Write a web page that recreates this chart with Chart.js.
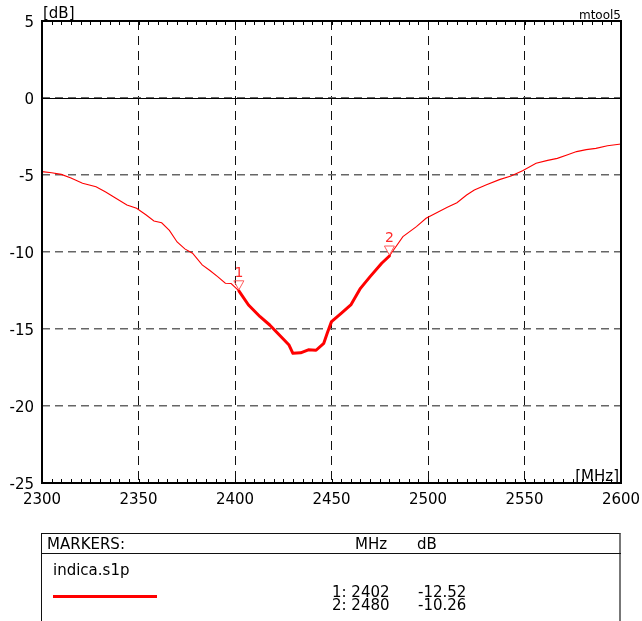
<!DOCTYPE html>
<html>
<head>
<meta charset="utf-8">
<script src="https://cdn.jsdelivr.net/npm/chart.js@4.4.1/dist/chart.umd.min.js"></script>
<style>
  html, body { margin: 0; padding: 0; background: #fff; overflow: hidden; }
  #wrap { position: relative; width: 642px; height: 621px; overflow: hidden; }
  #c { position: absolute; left: 0; top: 0; }
  .t { position: absolute; font: 15px "DejaVu Sans", sans-serif; line-height: 15px; color: #000; white-space: pre; }
  #box { position: absolute; left: 41px; top: 533px; width: 577px; height: 120px; border: 1.5px solid #111; border-right: 2px solid #777; }
  #sep { position: absolute; left: 41px; top: 553px; width: 580px; height: 0; border-top: 1.5px solid #111; }
  #leg { position: absolute; left: 53px; top: 595px; width: 104px; height: 3px; background: #ff0000; }
</style>
</head>
<body>
<div id="wrap">
  <canvas id="c" width="642" height="621"></canvas>
  <div id="box"></div>
  <div id="sep"></div>
  <div class="t" style="left:47px;top:537px;">MARKERS:</div>
  <div class="t" style="left:355px;top:537px;">MHz</div>
  <div class="t" style="left:417px;top:537px;">dB</div>
  <div class="t" style="left:53px;top:563px;">indica.s1p</div>
  <div id="leg"></div>
  <div class="t" id="m1f" style="left:332px;top:585px;"></div>
  <div class="t" id="m1d" style="left:418px;top:585px;"></div>
  <div class="t" id="m2f" style="left:332px;top:598px;"></div>
  <div class="t" id="m2d" style="left:418px;top:598px;"></div>
</div>
<script>
// ---- data ----
const freqMHz = [2300, 2305, 2310, 2315, 2321, 2328, 2333, 2337, 2344, 2349, 2354, 2358, 2362, 2366, 2370, 2374, 2378, 2383, 2387, 2391, 2395, 2398, 2402, 2407, 2413, 2418, 2423, 2428, 2430, 2434, 2438, 2442, 2446, 2448, 2450, 2455, 2460, 2465, 2470, 2476, 2480, 2487, 2494, 2499, 2505, 2510, 2515, 2520, 2524, 2530, 2537, 2543, 2549, 2556, 2562, 2567, 2572, 2577, 2582, 2587, 2593, 2600];
const dbValues = [-4.78, -4.85, -4.96, -5.2, -5.54, -5.76, -6.1, -6.41, -6.95, -7.16, -7.6, -7.99, -8.1, -8.6, -9.35, -9.8, -10.08, -10.84, -11.2, -11.6, -12.03, -12.05, -12.52, -13.44, -14.2, -14.74, -15.39, -16.04, -16.58, -16.55, -16.35, -16.38, -15.93, -15.2, -14.52, -13.98, -13.44, -12.36, -11.6, -10.73, -10.26, -9.0, -8.35, -7.81, -7.42, -7.1, -6.8, -6.3, -5.97, -5.65, -5.3, -5.06, -4.72, -4.24, -4.05, -3.92, -3.7, -3.48, -3.35, -3.27, -3.1, -2.99];
const markerNames = ['1', '2'];
const markerFreq = [2402, 2480];
const markerDb = [-12.52, -10.26];
const xTickValues = [2300, 2350, 2400, 2450, 2500, 2550, 2600];
const yTickValues = [5, 0, -5, -10, -15, -20, -25];
const minorStepMHz = 5;

// ---- table text ----
document.getElementById('m1f').textContent = markerNames[0] + ': ' + markerFreq[0];
document.getElementById('m1d').textContent = markerDb[0].toFixed(2);
document.getElementById('m2f').textContent = markerNames[1] + ': ' + markerFreq[1];
document.getElementById('m2d').textContent = markerDb[1].toFixed(2);

const fullTrace = freqMHz.map((f, i) => ({ x: f, y: dbValues[i] }));
const boldTrace = fullTrace.filter(p => p.x >= markerFreq[0] && p.x <= markerFreq[1]);

const FONT = '"DejaVu Sans", sans-serif';

const decor = {
  id: 'decor',
  beforeDatasetsDraw(chart) {
    const { ctx, chartArea: a, scales: { y } } = chart;
    ctx.save();
    const y0 = Math.round(y.getPixelForValue(0)) + 0.5;
    ctx.strokeStyle = '#000';
    ctx.lineWidth = 1;
    ctx.beginPath();
    ctx.moveTo(a.left, y0); ctx.lineTo(a.right, y0);
    ctx.stroke();
    ctx.restore();
  },
  afterDatasetsDraw(chart) {
    const { ctx, chartArea: a, scales: { x, y } } = chart;
    ctx.save();
    markerFreq.forEach((f, i) => {
      const px = x.getPixelForValue(f);
      const py = y.getPixelForValue(markerDb[i]);
      ctx.strokeStyle = '#ff5a5a';
      ctx.lineWidth = 1;
      ctx.beginPath();
      ctx.moveTo(px - 5, py - 10);
      ctx.lineTo(px + 5, py - 10);
      ctx.lineTo(px, py - 1);
      ctx.closePath();
      ctx.stroke();
      ctx.fillStyle = '#ff2a2a';
      ctx.font = '14px ' + FONT;
      ctx.textAlign = 'center';
      ctx.textBaseline = 'alphabetic';
      ctx.fillText(markerNames[i], px, py - 14);
    });
    ctx.strokeStyle = '#000';
    ctx.lineWidth = 2;
    ctx.strokeRect(a.left, a.top, a.right - a.left, a.bottom - a.top);
    ctx.lineWidth = 1;
    ctx.beginPath();
    for (let f = x.min; f <= x.max; f += minorStepMHz) {
      const px = Math.round(x.getPixelForValue(f)) + 0.5;
      ctx.moveTo(px, a.top); ctx.lineTo(px, a.top + 4);
      ctx.moveTo(px, a.bottom); ctx.lineTo(px, a.bottom - 4);
    }
    ctx.stroke();
    ctx.fillStyle = '#000';
    ctx.font = '15px ' + FONT;
    ctx.textBaseline = 'alphabetic';
    ctx.textAlign = 'left';
    ctx.fillText('[dB]', a.left + 1, 18);
    ctx.textAlign = 'right';
    ctx.fillText('[MHz]', a.right - 2, a.bottom - 2);
    ctx.font = '12px ' + FONT;
    ctx.fillText('mtool5', a.right, 19);
    ctx.restore();
  }
};

new Chart(document.getElementById('c'), {
  type: 'line',
  data: {
    datasets: [
      { data: fullTrace, borderColor: '#ff0000', borderWidth: 1.1, pointRadius: 0, tension: 0, fill: false },
      { data: boldTrace, borderColor: '#ff0000', borderWidth: 3, pointRadius: 0, tension: 0, fill: false, borderJoinStyle: 'round', borderCapStyle: 'round' }
    ]
  },
  options: {
    responsive: false,
    animation: false,
    events: [],
    layout: { padding: { top: 21, right: 21, left: 0, bottom: 0 } },
    plugins: { legend: { display: false }, tooltip: { enabled: false } },
    scales: {
      x: {
        type: 'linear',
        min: 2300, max: 2600,
        afterBuildTicks: s => { s.ticks = xTickValues.map(v => ({ value: v })); },
        afterFit: s => { s.height = 138; s.paddingLeft = 0; s.paddingRight = 0; },
        ticks: { font: { family: FONT, size: 15 }, color: '#000', padding: 8, maxRotation: 0, autoSkip: false, callback: v => String(v) },
        grid: { color: '#111', lineWidth: 1, drawTicks: false },
        border: { display: false, dash: [9, 6] }
      },
      y: {
        min: -25, max: 5,
        afterBuildTicks: s => { s.ticks = yTickValues.map(v => ({ value: v })); },
        afterFit: s => { s.width = 42; s.paddingTop = 0; s.paddingBottom = 0; },
        ticks: { font: { family: FONT, size: 15 }, color: '#000', padding: 8, labelOffset: 2, autoSkip: false, callback: v => String(v) },
        grid: { color: '#666', lineWidth: 1.5, drawTicks: false },
        border: { display: false, dash: [8, 5] }
      }
    }
  },
  plugins: [decor]
});
</script>
</body>
</html>
